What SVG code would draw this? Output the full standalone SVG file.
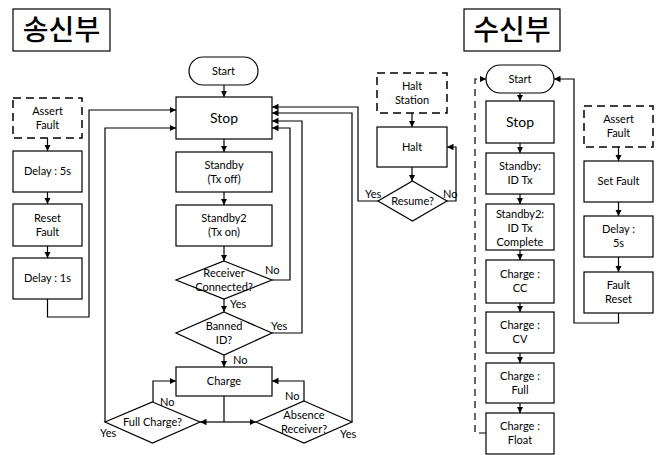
<svg xmlns="http://www.w3.org/2000/svg" width="664" height="455" viewBox="0 0 664 455">
<style>
.b{fill:#fff;stroke:#000;stroke-width:1.2}
.d{fill:#fff;stroke:#000;stroke-width:1.5;stroke-dasharray:8 5}
.t{font-family:Lato,"Liberation Sans",sans-serif;font-size:11px;fill:#000;text-anchor:middle}
.s{font-size:14px}
.ti{font-family:"Noto Sans CJK KR",sans-serif;font-size:28px;font-weight:500;fill:#000;text-anchor:middle}
.c{fill:none;stroke:#000;stroke-width:1.2}
.a{marker-end:url(#ah)}
.l{font-family:Lato,"Liberation Sans",sans-serif;font-size:11px;fill:#000}
</style>
<defs>
<marker id="ah" viewBox="0 0 8 8" refX="8" refY="4" markerWidth="6.5" markerHeight="6.5" markerUnits="userSpaceOnUse" orient="auto">
<path d="M0,0 L8,4 L0,8 z" fill="#000"/>
</marker>
</defs>
<rect width="664" height="455" fill="#fff"/>

<g id="title-tx"><rect x="13" y="9" width="97" height="42" class="b"/><text x="61.5" y="40" class="ti">송신부</text></g>
<g id="title-rx"><rect x="464" y="9" width="96" height="42" class="b"/><text x="512" y="40" class="ti">수신부</text></g>

<g id="connectors">
<path class="c a" d="M47.5,138 V151"/>
<path class="c a" d="M47.5,192 V204"/>
<path class="c a" d="M47.5,246 V258"/>
<path class="c a" d="M47.5,299 V317 H89 V110 H176"/>
<path class="c a" d="M105,422 V128 H176"/>
<path class="c a" d="M224,85 V97"/>
<path class="c a" d="M224,139 V152"/>
<path class="c a" d="M224,192 V205"/>
<path class="c a" d="M224,246 V261"/>
<path class="c a" d="M224,299 V312"/>
<path class="c a" d="M224,355 V367"/>
<path class="c a" d="M272,280 H290 V128 H272"/>
<path class="c a" d="M272,333 H302 V121 H272"/>
<path class="c a" d="M352,422 V113 H272"/>
<path class="c a" d="M378,201 H358 V107 H272"/>
<path class="c" d="M224,396 V422"/>
<path class="c a" d="M224,422 H200"/>
<path class="c a" d="M224,422 H256"/>
<path class="c a" d="M153,402 V381 H176"/>
<path class="c a" d="M304,401 V381 H272"/>
<path class="c a" d="M412,113 V127"/>
<path class="c a" d="M412,167 V181"/>
<path class="c a" d="M447,201 H456 V147 H447"/>
<path class="c a" d="M520,93 V101"/>
<path class="c a" d="M520,143 V153"/>
<path class="c a" d="M520,194 V204"/>
<path class="c a" d="M520,250 V260"/>
<path class="c a" d="M520,303 V312"/>
<path class="c a" d="M520,353 V363"/>
<path class="c a" d="M520,403 V413"/>
<path class="c a" d="M486,433 H475 V79 H486" stroke-dasharray="7 5"/>
<path class="c a" d="M618.5,147 V161"/>
<path class="c a" d="M618.5,202 V216"/>
<path class="c a" d="M618.5,257 V272"/>
<path class="c a" d="M618.5,313 V323 H574 V79 H554"/>
<text x="265" y="274" class="l">No</text>
<text x="230" y="308" class="l">Yes</text>
<text x="271" y="330" class="l">Yes</text>
<text x="233" y="364" class="l">No</text>
<text x="160" y="406" class="l">No</text>
<text x="100" y="437" class="l">Yes</text>
<text x="285" y="400" class="l">No</text>
<text x="340" y="438" class="l">Yes</text>
<text x="365" y="198" class="l">Yes</text>
<text x="443" y="198" class="l">No</text>
</g>

<g id="assert-fault-tx"><rect x="13" y="98" width="69" height="40" class="d"/><text x="47.5" y="115" class="t">Assert</text><text x="47.5" y="129" class="t">Fault</text></g>
<g id="delay5-tx"><rect x="13" y="151" width="69" height="41" class="b"/><text x="47.5" y="175" class="t">Delay : 5s</text></g>
<g id="reset-fault-tx"><rect x="13" y="204" width="69" height="42" class="b"/><text x="47.5" y="222" class="t">Reset</text><text x="47.5" y="236" class="t">Fault</text></g>
<g id="delay1-tx"><rect x="13" y="258" width="69" height="41" class="b"/><text x="47.5" y="282" class="t">Delay : 1s</text></g>

<g id="start-tx"><rect x="189" y="57" width="69" height="28" rx="14" class="b"/><text x="223.5" y="75" class="t" font-size="10">Start</text></g>
<g id="stop-tx"><rect x="176" y="97" width="96" height="42" class="b"/><text x="224" y="123" class="t s">Stop</text></g>
<g id="standby-tx"><rect x="176" y="152" width="96" height="40" class="b"/><text x="224" y="169" class="t">Standby</text><text x="224" y="183" class="t">(Tx off)</text></g>
<g id="standby2-tx"><rect x="176" y="205" width="96" height="41" class="b"/><text x="224" y="222" class="t">Standby2</text><text x="224" y="236" class="t">(Tx on)</text></g>
<g id="receiver-connected"><polygon points="224,261 272,280 224,299 176,280" class="b"/><text x="224" y="277" class="t">Receiver</text><text x="224" y="291" class="t">Connected?</text></g>
<g id="banned-id"><polygon points="224,312 272,333 224,355 176,333" class="b"/><text x="224" y="330" class="t">Banned</text><text x="224" y="344" class="t">ID?</text></g>
<g id="charge-tx"><rect x="176" y="367" width="96" height="29" class="b"/><text x="224" y="385" class="t">Charge</text></g>
<g id="full-charge"><polygon points="152.5,402 200,422 152.5,443 105,422" class="b"/><text x="152.5" y="426" class="t">Full Charge?</text></g>
<g id="absence-receiver"><polygon points="304,401 352,422 304,443 256,422" class="b"/><text x="304" y="419" class="t">Absence</text><text x="304" y="433" class="t">Receiver?</text></g>

<g id="halt-station"><rect x="377" y="73" width="70" height="40" class="d"/><text x="412" y="90" class="t">Halt</text><text x="412" y="104" class="t">Station</text></g>
<g id="halt"><rect x="377" y="127" width="70" height="40" class="b"/><text x="412" y="151" class="t">Halt</text></g>
<g id="resume"><polygon points="412.5,181 447,201 412.5,221 378,201" class="b"/><text x="412.5" y="205" class="t">Resume?</text></g>

<g id="start-rx"><rect x="486" y="65" width="68" height="28" rx="14" class="b"/><text x="520" y="83" class="t" font-size="10">Start</text></g>
<g id="stop-rx"><rect x="486" y="101" width="68" height="42" class="b"/><text x="520" y="127" class="t s">Stop</text></g>
<g id="standby-rx"><rect x="486" y="153" width="68" height="41" class="b"/><text x="520" y="170" class="t">Standby:</text><text x="520" y="184" class="t">ID Tx</text></g>
<g id="standby2-rx"><rect x="486" y="204" width="68" height="46" class="b"/><text x="520" y="218" class="t">Standby2:</text><text x="520" y="232" class="t">ID Tx</text><text x="520" y="246" class="t">Complete</text></g>
<g id="charge-cc"><rect x="486" y="260" width="68" height="43" class="b"/><text x="520" y="278" class="t">Charge :</text><text x="520" y="292" class="t">CC</text></g>
<g id="charge-cv"><rect x="486" y="312" width="68" height="41" class="b"/><text x="520" y="329" class="t">Charge :</text><text x="520" y="343" class="t">CV</text></g>
<g id="charge-full"><rect x="486" y="363" width="68" height="40" class="b"/><text x="520" y="380" class="t">Charge :</text><text x="520" y="394" class="t">Full</text></g>
<g id="charge-float"><rect x="486" y="413" width="68" height="41" class="b"/><text x="520" y="430" class="t">Charge :</text><text x="520" y="444" class="t">Float</text></g>

<g id="assert-fault-rx"><rect x="584" y="106" width="69" height="41" class="d"/><text x="618.5" y="123" class="t">Assert</text><text x="618.5" y="137" class="t">Fault</text></g>
<g id="set-fault"><rect x="584" y="161" width="69" height="41" class="b"/><text x="618.5" y="185" class="t">Set Fault</text></g>
<g id="delay5-rx"><rect x="584" y="216" width="69" height="41" class="b"/><text x="618.5" y="233" class="t">Delay :</text><text x="618.5" y="247" class="t">5s</text></g>
<g id="fault-reset"><rect x="584" y="272" width="69" height="41" class="b"/><text x="618.5" y="289" class="t">Fault</text><text x="618.5" y="303" class="t">Reset</text></g>
</svg>
